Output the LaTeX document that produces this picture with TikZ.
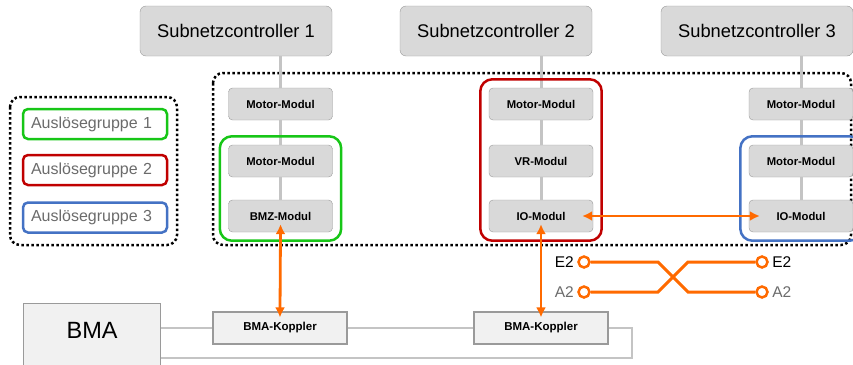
\documentclass[tikz,border=0pt]{standalone}
\usepackage{fontspec}
\setmainfont{Liberation Sans}
\usetikzlibrary{arrows.meta,fit}
\definecolor{boxgray}{HTML}{D9D9D9}
\definecolor{framegray}{HTML}{9A9A9A}
\definecolor{busgray}{HTML}{C4C4C4}
\definecolor{lightfill}{HTML}{F1F1F1}
\definecolor{sigorange}{HTML}{FF6A00}
\definecolor{grpgreen}{HTML}{17C617}
\definecolor{grpred}{HTML}{C00000}
\definecolor{grpblue}{HTML}{4472C4}
\definecolor{legtext}{HTML}{6B6B6B}
\tikzset{
  ctrl/.style={draw=framegray,fill=boxgray,rounded corners=6pt,minimum width=192pt,minimum height=50pt,font=\fontsize{18.3}{20}\selectfont},
  modul/.style={draw=framegray,fill=boxgray,rounded corners=4pt,minimum width=104pt,minimum height=32pt,font=\bfseries\fontsize{11.3}{13}\selectfont},
  koppler/.style={draw=framegray,fill=lightfill,line width=1.2pt,minimum width=134pt,minimum height=32pt,font=\bfseries\fontsize{11.5}{13}\selectfont},
  grp/.style={line width=2.5pt,rounded corners=12pt,inner sep=8.5pt},
  legende/.style={line width=2.5pt,rounded corners=5pt,text width=128pt,inner xsep=8pt,minimum height=30pt,align=left,text=legtext,font=\fontsize{16}{18}\selectfont},
  dotbox/.style={line width=2.5pt,dash pattern=on 2.5pt off 2.5pt,rounded corners=10pt},
  bus/.style={draw=busgray,line width=3pt},
  bmaline/.style={draw=busgray,line width=2pt},
  sig/.style={draw=sigorange,line width=2.8pt,{Latex[length=10pt,width=10pt]}-{Latex[length=10pt,width=10pt]}},
  wire/.style={draw=sigorange,line width=3pt},
  term/.style={circle,draw=sigorange,fill=white,line width=2.5pt,minimum size=11pt,inner sep=0pt,label distance=3pt}
}
\begin{document}
\begin{tikzpicture}[x=1pt,y=-1pt]
  \useasboundingbox (0,0) rectangle (853,364);
  \node[ctrl] (sc1) at (236,31) {Subnetzcontroller 1};
  \node[ctrl] (sc2) at (496,31) {Subnetzcontroller 2};
  \node[ctrl] (sc3) at (757,31) {Subnetzcontroller 3};

  \draw[dotbox] (10,97) rectangle (177,245);
  \draw[dotbox] (213,73) rectangle (851,245);

  \node[legende,draw=grpgreen] (l1) at (95,124) {Auslösegruppe 1};
  \node[legende,draw=grpred] (l2) at (95,170) {Auslösegruppe 2};
  \node[legende,draw=grpblue] (l3) at (95,217.5) {Auslösegruppe 3};

  \node[modul] (m1a) at (280.5,104) {Motor-Modul};
  \node[modul] (m1b) at (280.5,161) {Motor-Modul};
  \node[modul] (bmz) at (280.5,216) {BMZ-Modul};
  \node[modul] (m2a) at (541,104) {Motor-Modul};
  \node[modul] (vr) at (541,161) {VR-Modul};
  \node[modul] (io2) at (541,216) {IO-Modul};
  \node[modul] (m3a) at (801,104) {Motor-Modul};
  \node[modul] (m3b) at (801,161) {Motor-Modul};
  \node[modul] (io3) at (801,216) {IO-Modul};

  \begin{scope}[bus]
    \draw (sc1.south -| m1a.north) -- (m1a.north);
    \draw (m1a) -- (m1b);
    \draw (m1b) -- (bmz);
    \draw (sc2.south -| m2a.north) -- (m2a.north);
    \draw (m2a) -- (vr);
    \draw (vr) -- (io2);
    \draw (sc3.south -| m3a.north) -- (m3a.north);
    \draw (m3a) -- (m3b);
    \draw (m3b) -- (io3);
  \end{scope}

  \node[grp,draw=grpgreen,fit=(m1b)(bmz)] (g1) {};
  \node[grp,draw=grpred,fit=(m2a)(io2)] (g2) {};
  \node[grp,draw=grpblue,fit=(m3b)(io3)] (g3) {};

  \node[draw=framegray,fill=lightfill,line width=1.2pt,minimum width=137pt,inner sep=0pt,
    text height=35pt,text depth=57pt,font=\fontsize{23.5}{25}\selectfont,anchor=north west] (bma) at (23,303) {BMA};
  \node[koppler] (kop1) at (280,328) {BMA-Koppler};
  \node[koppler] (kop2) at (541,328) {BMA-Koppler};
  \coordinate (ret) at (632,358);

  \begin{scope}[bmaline]
    \draw (kop1.west -| bma.east) -- (kop1.west);
    \draw (kop1) -- (kop2);
    \draw (kop2.east) -| (ret) -- (ret -| bma.east);
  \end{scope}

  \begin{scope}[sig]
    \draw[shorten <=-8pt,shorten >=-6pt] (bmz.south) -- (kop1.north);
    \draw[shorten <=-8pt,shorten >=-6pt] (io2.south) -- (kop2.north);
    \draw[shorten <=-11pt,shorten >=-11pt] (io2.east) -- (io3.west);
  \end{scope}

  \node[term,label={[font=\fontsize{15.5}{17}\selectfont]left:E2}] (e2a) at (584,262) {};
  \node[term,label={[font=\fontsize{15.5}{17}\selectfont,text=legtext]left:A2}] (a2a) at (584,292) {};
  \node[term,label={[font=\fontsize{15.5}{17}\selectfont]right:E2}] (e2b) at (762,262) {};
  \node[term,label={[font=\fontsize{15.5}{17}\selectfont,text=legtext]right:A2}] (a2b) at (762,292) {};
  \coordinate (k1) at (658,262);
  \coordinate (k2) at (688,292);
  \coordinate (k3) at (658,292);
  \coordinate (k4) at (688,262);
  \begin{scope}[wire]
    \draw (e2a) -- (k1) -- (k2) -- (a2b);
    \draw (a2a) -- (k3) -- (k4) -- (e2b);
  \end{scope}
\end{tikzpicture}
\end{document}
